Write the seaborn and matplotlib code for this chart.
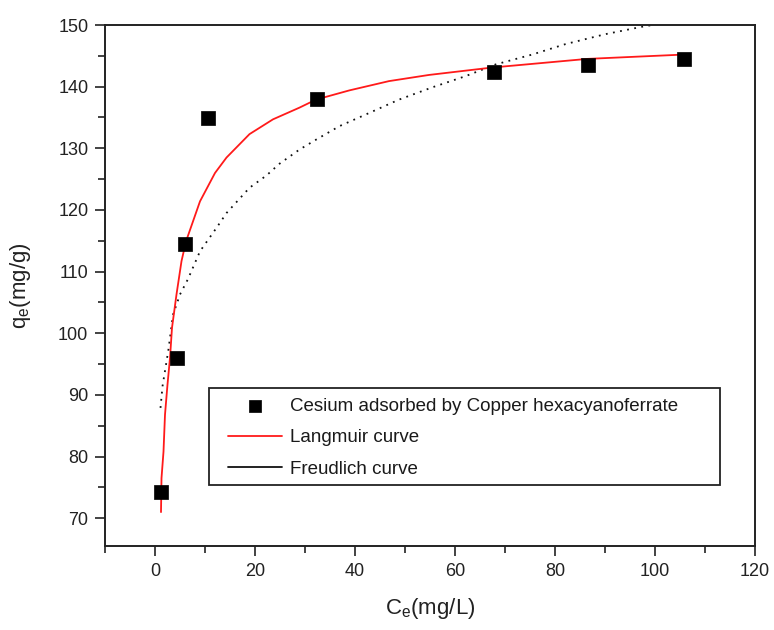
import numpy as np
import pandas as pd
import matplotlib
matplotlib.use("Agg")
import matplotlib.pyplot as plt
import seaborn as sns
from matplotlib.ticker import MultipleLocator
from matplotlib.patches import Rectangle

# ---- data ----
ce_points = [1.2, 4.3, 6.0, 10.5, 32.3, 67.8, 86.6, 105.8]
qe_points = [74.3, 96.0, 114.5, 134.9, 138.0, 142.4, 143.5, 144.5]

lang_ce = [1.2, 1.3, 1.7, 2.0, 2.5, 3.0, 3.4, 4.3, 5.3, 6.2, 9.0, 12.0, 14.3,
           18.9, 23.6, 28.9, 32.2, 38.9, 46.8, 54.8, 67.4, 86.4, 105.6]
lang_qe = [71.0, 76.5, 80.8, 86.8, 91.7, 96.0, 100.9, 106.3, 111.7, 114.9, 121.4,
           126.0, 128.5, 132.3, 134.7, 136.6, 137.9, 139.4, 140.9, 141.9, 143.1,
           144.5, 145.2]

fr_ce = [1.1, 1.5, 2.7, 3.6, 5.0, 6.6, 9.0, 12.3, 14.3, 18.9, 22.3, 24.9, 28.9,
         32.2, 36.9, 42.2, 48.8, 55.5, 62.1, 68.1, 75.4, 82.1, 90.0, 97.3, 99.5]
fr_qe = [87.9, 91.4, 97.4, 103.0, 106.3, 108.8, 113.3, 117.1, 119.5, 123.6, 125.6,
         127.5, 129.8, 131.4, 133.6, 135.5, 137.9, 139.9, 141.7, 143.6, 145.2,
         146.9, 148.5, 149.7, 150.0]

x_major = [0, 20, 40, 60, 80, 100, 120]
y_major = [70, 80, 90, 100, 110, 120, 130, 140, 150]

labels = ["Cesium adsorbed by Copper hexacyanoferrate", "Langmuir curve", "Freudlich curve"]

# ---- style ----
sns.set_style("ticks")
plt.rcParams['font.family'] = ['Liberation Sans', 'DejaVu Sans']
plt.rcParams['mathtext.default'] = 'regular'

fig = plt.figure(figsize=(7.74, 6.30), dpi=100)
ax = fig.add_axes([105/774, 1-546/630, 650/774, 521/630])

pts = pd.DataFrame({"Ce": ce_points, "qe": qe_points})
lang = pd.DataFrame({"Ce": lang_ce, "qe": lang_qe})
fr = pd.DataFrame({"Ce": fr_ce, "qe": fr_qe})

sns.lineplot(data=lang, x="Ce", y="qe", ax=ax, sort=False, estimator=None,
             color="#ff1a1a", linewidth=1.3, label=labels[1], zorder=3)
sns.lineplot(data=fr, x="Ce", y="qe", ax=ax, sort=False, estimator=None,
             color="#111111", linewidth=1.3, linestyle=(0, (1, 3)), label=labels[2], zorder=2)
sns.scatterplot(data=pts, x="Ce", y="qe", ax=ax, marker="s", s=110, color="black",
                edgecolor="black", linewidth=0.5, label=labels[0], zorder=4)

ax.set_xlim(-10, 120)
ax.set_ylim(65.5, 150)
ax.set_xticks(x_major)
ax.set_yticks(y_major)
ax.xaxis.set_minor_locator(MultipleLocator(10))
ax.yaxis.set_minor_locator(MultipleLocator(5))
ax.tick_params(axis="both", which="major", direction="out", length=7, width=1.2,
               labelsize=13, pad=5, colors="#222222")
ax.tick_params(axis="both", which="minor", direction="out", length=5, width=1.2, colors="#222222")
ax.tick_params(top=False, right=False, which="both")
for sp in ax.spines.values():
    sp.set_visible(True)
    sp.set_linewidth(1.4)
    sp.set_color("#222222")

ax.set_xlabel("C$_{e}$(mg/L)", fontsize=16, labelpad=12, color="#222222")
ax.set_ylabel("q$_{e}$(mg/g)", fontsize=16, labelpad=18, color="#222222")

# legend
h, l = ax.get_legend_handles_labels()
order = [l.index(t) for t in labels]
leg = ax.legend([h[i] for i in order], [l[i] for i in order], loc="upper left",
                bbox_to_anchor=((228-105)/650, (546-398)/521), frameon=False,
                fontsize=13.5, handlelength=2.9, handletextpad=0.43, labelspacing=0.76,
                borderpad=0, borderaxespad=0, markerscale=0.85)
for t in leg.get_texts():
    t.set_color("#1a1a1a")
for ln in leg.get_lines():
    ln.set_linestyle("-")
ax.add_patch(Rectangle(((209-105)/650, (546-485)/521), (720-209)/650, (485-388)/521,
                       transform=ax.transAxes, fill=False, edgecolor="#222222",
                       linewidth=1.3, zorder=5))

fig.savefig("out.png", dpi=100)
